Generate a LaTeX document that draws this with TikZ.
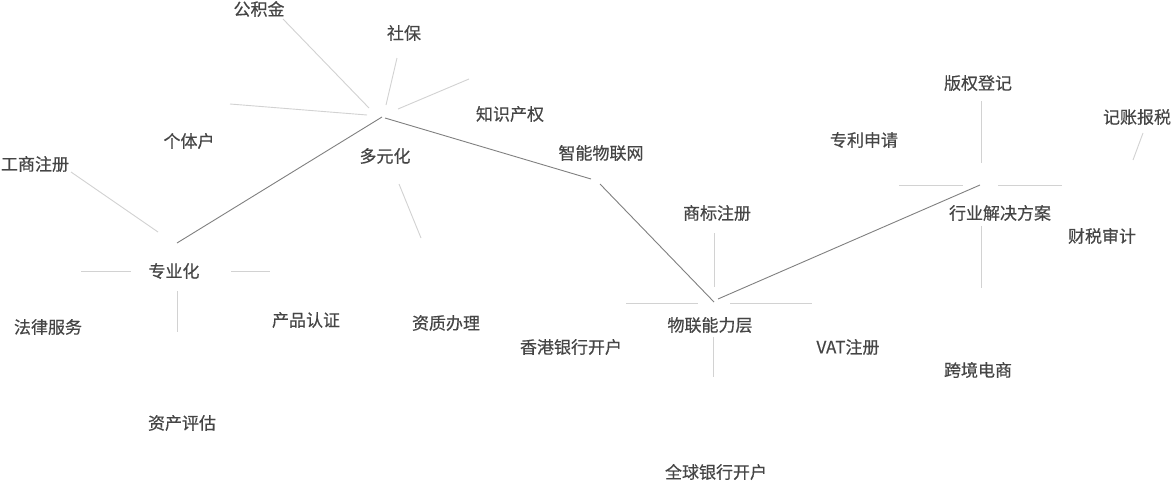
\documentclass[tikz,border=0pt]{standalone}
\usepackage{fontspec}
\newfontfamily\cjk[FakeBold=0.4]{Noto Sans CJK SC}
\definecolor{txt}{HTML}{454545}
\definecolor{mainln}{HTML}{808080}
\definecolor{spoke}{HTML}{D2D2D2}
\tikzset{
  lbl/.style={font=\cjk\fontsize{17}{19}\selectfont, text=txt, inner sep=0pt},
  mainline/.style={draw=mainln, line width=0.9pt},
  spokeline/.style={draw=spoke, line width=0.9pt}
}
\begin{document}
\begin{tikzpicture}[x=1pt,y=-1pt]
\useasboundingbox (0,0) rectangle (1173,482);
\fill[white] (0,0) rectangle (1173,482);
% labels
\node[lbl] (gjj) at (259,9) {公积金};
\node[lbl] (sb) at (404,33) {社保};
\node[lbl] (zscq) at (510,114) {知识产权};
\node[lbl] (gth) at (189,141) {个体户};
\node[lbl] (gszc) at (35,164) {工商注册};
\node[lbl] (dyh) at (385,156) {多元化};
\node[lbl] (znwlw) at (601,153) {智能物联网};
\node[lbl] (zyh) at (174,271) {专业化};
\node[lbl] (flfw) at (48,327) {法律服务};
\node[lbl] (cprz) at (306,320) {产品认证};
\node[lbl] (zcpg) at (182,423) {资产评估};
\node[lbl] (zzbl) at (446,323) {资质办理};
\node[lbl] (xgyh) at (571,347) {香港银行开户};
\node[lbl] (sbzc) at (717,213) {商标注册};
\node[lbl] (wlnl) at (710,325) {物联能力层};
\node[lbl] (qqyh) at (716,472) {全球银行开户};
\node[lbl] (zlsq) at (864,140) {专利申请};
\node[lbl] (bqdj) at (978,83) {版权登记};
\node[lbl] (jzbs) at (1137,117) {记账报税};
\node[lbl] (hyjj) at (1000,213) {行业解决方案};
\node[lbl] (cssj) at (1102,236) {财税审计};
\node[lbl] (vat) at (848,347) {VAT注册};
\node[lbl] (kjds) at (978,370) {跨境电商};
% main path points
\coordinate (A) at (177,243);
\coordinate (B1) at (382,117);
\coordinate (B2) at (385,118);
\coordinate (C1) at (591,179);
\coordinate (C2) at (600,184);
\coordinate (D1) at (714,302);
\coordinate (D2) at (718,299);
\coordinate (E) at (980,185);
\draw[mainline] (A) -- (B1);
\draw[mainline] (B2) -- (C1);
\draw[mainline] (C2) -- (D1);
\draw[mainline] (D2) -- (E);
% spokes around 专业化
\coordinate (a1s) at (71,172); \coordinate (a1e) at (158,232);
\coordinate (a2s) at (81,271); \coordinate (a2e) at (131,271);
\coordinate (a3s) at (231,271); \coordinate (a3e) at (270,271);
\coordinate (a4s) at (177,291); \coordinate (a4e) at (177,332);
\draw[spokeline] (a1s) -- (a1e);
\draw[spokeline] (a2s) -- (a2e);
\draw[spokeline] (a3s) -- (a3e);
\draw[spokeline] (a4s) -- (a4e);
% spokes around 多元化
\coordinate (b1s) at (283,19); \coordinate (b1e) at (369,108);
\coordinate (b2s) at (397,58); \coordinate (b2e) at (386,105);
\coordinate (b3s) at (230,104); \coordinate (b3e) at (367,115);
\coordinate (b4s) at (398,109); \coordinate (b4e) at (469,79);
\coordinate (b5s) at (399,184); \coordinate (b5e) at (421,238);
\draw[spokeline] (b1s) -- (b1e);
\draw[spokeline] (b2s) -- (b2e);
\draw[spokeline] (b3s) -- (b3e);
\draw[spokeline] (b4s) -- (b4e);
\draw[spokeline] (b5s) -- (b5e);
% spokes around 物联能力层
\coordinate (d1s) at (626,303); \coordinate (d1e) at (698,303);
\coordinate (d2s) at (730,303); \coordinate (d2e) at (812,303);
\coordinate (d3s) at (714,233); \coordinate (d3e) at (714,287);
\coordinate (d4s) at (713,337); \coordinate (d4e) at (713,377);
\draw[spokeline] (d1s) -- (d1e);
\draw[spokeline] (d2s) -- (d2e);
\draw[spokeline] (d3s) -- (d3e);
\draw[spokeline] (d4s) -- (d4e);
% spokes around 行业解决方案
\coordinate (e1s) at (899,185); \coordinate (e1e) at (963,185);
\coordinate (e2s) at (998,185); \coordinate (e2e) at (1062,185);
\coordinate (e3s) at (981,101); \coordinate (e3e) at (981,163);
\coordinate (e4s) at (981,226); \coordinate (e4e) at (981,288);
\coordinate (e5s) at (1143,133); \coordinate (e5e) at (1133,160);
\draw[spokeline] (e1s) -- (e1e);
\draw[spokeline] (e2s) -- (e2e);
\draw[spokeline] (e3s) -- (e3e);
\draw[spokeline] (e4s) -- (e4e);
\draw[spokeline] (e5s) -- (e5e);
\end{tikzpicture}
\end{document}
